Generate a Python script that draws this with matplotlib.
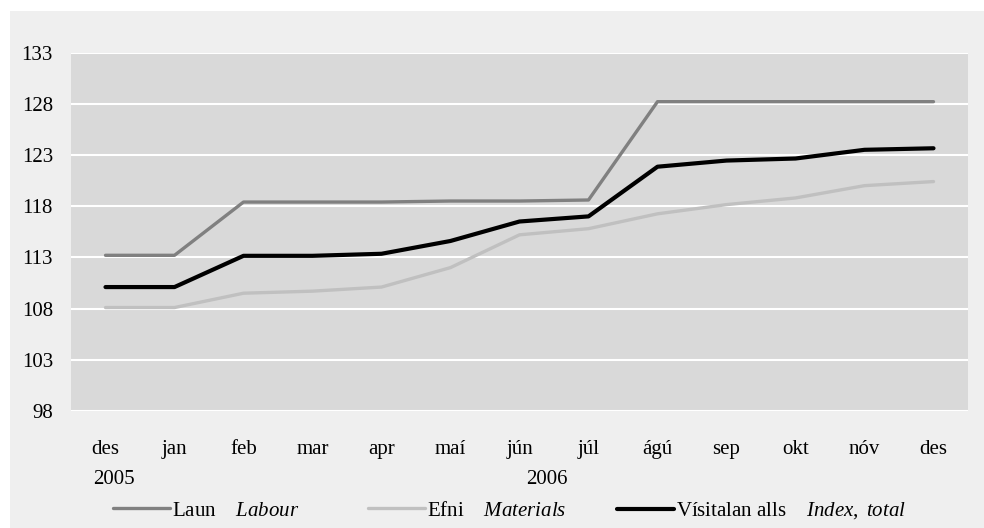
import numpy as np
import matplotlib
matplotlib.use('Agg')
import matplotlib.pyplot as plt
import matplotlib.patches as mpatches
from matplotlib.transforms import blended_transform_factory

plt.rcParams['font.family'] = ['Liberation Serif', 'DejaVu Serif']
plt.rcParams['mathtext.fontset'] = 'custom'
plt.rcParams['mathtext.rm'] = 'Liberation Serif'
plt.rcParams['mathtext.it'] = 'Liberation Serif:italic'

# 한 달 단위, des 2005 ~ des 2006
months = ['des', 'jan', 'feb', 'mar', 'apr', 'maí', 'jún', 'júl', 'ágú', 'sep', 'okt', 'nóv', 'des']
years = ['2005', '2006']
year_pos = [0.12, 6.4]

labour = [113.2, 113.2, 118.4, 118.4, 118.4, 118.5, 118.5, 118.6, 128.2, 128.2, 128.2, 128.2, 128.2]
materials = [108.1, 108.1, 109.5, 109.7, 110.1, 112.0, 115.2, 115.8, 117.25, 118.15, 118.8, 120.0, 120.4]
total = [110.1, 110.1, 113.15, 113.15, 113.35, 114.6, 116.5, 117.0, 121.85, 122.45, 122.65, 123.5, 123.65]

yticks = [98, 103, 108, 113, 118, 123, 128, 133]

FS = 15

fig = plt.figure(figsize=(9.84, 5.28), dpi=100)
fig.patch.set_facecolor('white')
# light gray frame behind everything
fig.patches.append(mpatches.Rectangle((10 / 984, 0), 1, 1 - 11 / 528, transform=fig.transFigure,
                                      facecolor='#efefef', edgecolor='none', zorder=-10))

ax = fig.add_axes([71 / 984, 1 - 411 / 528, 897 / 984, 358.5 / 528])
ax.set_facecolor('#d9d9d9')

x = np.arange(len(months))
l1, = ax.plot(x, labour, color='#808080', lw=2.4, solid_capstyle='round')
l2, = ax.plot(x, materials, color='#c0c0c0', lw=2.4, solid_capstyle='round')
l3, = ax.plot(x, total, color='black', lw=3.0, solid_capstyle='round')

ax.set_xlim(-0.5, len(months) - 0.5)
ax.set_ylim(98, 133)
ax.set_yticks(yticks)
ax.set_xticks(x)
ax.set_xticklabels(months)
ax.grid(axis='y', color='white', lw=1.5)
ax.set_axisbelow(True)
for s in ax.spines.values():
    s.set_visible(False)
ax.tick_params(axis='both', length=0, labelsize=FS)
ax.tick_params(axis='y', pad=13)
ax.tick_params(axis='x', pad=21)

trans = blended_transform_factory(ax.transData, ax.transAxes)
for yr, p in zip(years, year_pos):
    ax.text(p, -0.19, yr, transform=trans, ha='center', va='center', fontsize=FS)

# legend entries placed one by one (handle left edges)
entries = [(l1, r'Laun    $\mathit{Labour}$', 113),
           (l2, r'Efni    $\mathit{Materials}$', 368),
           (l3, r'Vísitalan alls    $\mathit{Index,\ total}$', 617)]
for h, lab, px in entries:
    fig.legend([h], [lab], loc='center left', bbox_to_anchor=(px / 984, 1 - 511 / 528),
               frameon=False, fontsize=FS, handlelength=2.75, handletextpad=0.1,
               borderpad=0, borderaxespad=0)

plt.savefig('out.png', dpi=100)
